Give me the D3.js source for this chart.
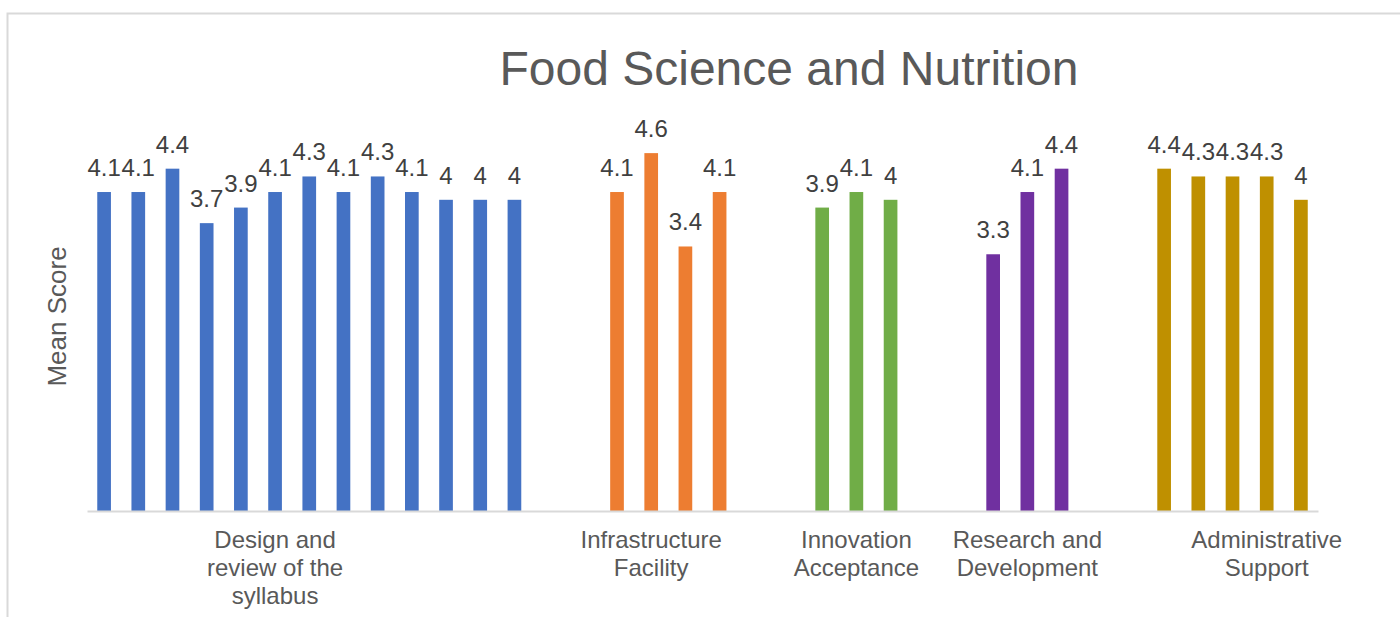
<!DOCTYPE html>
<html>
<head>
<meta charset="utf-8">
<script src="https://cdn.jsdelivr.net/npm/d3@7"></script>
<style>
  html, body { margin: 0; padding: 0; background: #fff; }
  svg { display: block; font-family: "Liberation Sans", Arial, sans-serif; }
</style>
</head>
<body>
<svg id="chart"></svg>
<script>
// category groups, as they appear along the x axis
const groups = [
  "Design and review of the syllabus",
  "Infrastructure Facility",
  "Innovation Acceptance",
  "Research and Development",
  "Administrative Support"
];

// wrapped label lines for each group
const groupLabelLines = [
  ["Design and", "review of the", "syllabus"],
  ["Infrastructure", "Facility"],
  ["Innovation", "Acceptance"],
  ["Research and", "Development"],
  ["Administrative", "Support"]
];

// index of the item inside each group that carries the category label
const labelItem = [5, 1, 1, 1, 3];

// mean scores per item
const designScores = [4.1, 4.1, 4.4, 3.7, 3.9, 4.1, 4.3, 4.1, 4.3, 4.1, 4, 4, 4];
const infraScores = [4.1, 4.6, 3.4, 4.1];
const innovationScores = [3.9, 4.1, 4];
const researchScores = [3.3, 4.1, 4.4];
const adminScores = [4.4, 4.3, 4.3, 4.3, 4];

const groupColors = ["#4472C4", "#ED7D31", "#70AD47", "#7030A0", "#BF9000"];

const width = 1400;
const height = 617;
const margin = { top: 122, left: 87, right: 82, bottom: 106 };
const emptySlots = 2; // blank categories between groups

// flatten into one row of slots, like the spreadsheet did
const allScores = [designScores, infraScores, innovationScores, researchScores, adminScores];
const bars = [];
const labels = [];
let slot = 0;
allScores.forEach((scores, gi) => {
  scores.forEach((v, i) => {
    bars.push({ slot: slot, value: v, group: gi });
    if (i === labelItem[gi]) labels.push({ slot: slot, lines: groupLabelLines[gi] });
    slot++;
  });
  if (gi < allScores.length - 1) slot += emptySlots;
});
const slotCount = slot;

const svg = d3.select("#chart")
  .attr("width", width)
  .attr("height", height);

// chart frame (runs off the right and bottom edges)
svg.append("rect")
  .attr("x", 7.5)
  .attr("y", 13.5)
  .attr("width", width + 20)
  .attr("height", height + 20)
  .attr("fill", "#fff")
  .attr("stroke", "#d9d9d9")
  .attr("stroke-width", 2);

const x = d3.scaleBand()
  .domain(d3.range(slotCount))
  .range([margin.left, width - margin.right])
  .paddingInner(0.6)
  .paddingOuter(0.3);

const y = d3.scaleLinear()
  .domain([0, 5])
  .range([height - margin.bottom, margin.top]);

// title
svg.append("text")
  .attr("x", 789)
  .attr("y", 85)
  .attr("text-anchor", "middle")
  .attr("font-size", 48)
  .attr("fill", "#595959")
  .text("Food Science and Nutrition");

// y axis title
svg.append("text")
  .attr("transform", `translate(66, ${(y(0) + y(5)) / 2}) rotate(-90)`)
  .attr("text-anchor", "middle")
  .attr("font-size", 26)
  .attr("fill", "#595959")
  .text("Mean Score");

// bars
svg.append("g")
  .selectAll("rect")
  .data(bars)
  .join("rect")
  .attr("x", d => x(d.slot))
  .attr("y", d => y(d.value))
  .attr("width", x.bandwidth())
  .attr("height", d => y(0) - y(d.value))
  .attr("fill", d => groupColors[d.group]);

// baseline axis, no ticks
svg.append("g")
  .attr("transform", `translate(0, ${y(0)})`)
  .call(d3.axisBottom(x).tickSize(0).tickFormat(""))
  .call(g => g.select(".domain").attr("stroke", "#d9d9d9").attr("stroke-width", 2));

// data labels
svg.append("g")
  .selectAll("text")
  .data(bars)
  .join("text")
  .attr("x", d => x(d.slot) + x.bandwidth() / 2)
  .attr("y", d => y(d.value) - 16)
  .attr("text-anchor", "middle")
  .attr("font-size", 24)
  .attr("fill", "#404040")
  .text(d => d3.format("")(d.value));

// category labels
const catLabels = svg.append("g")
  .selectAll("text")
  .data(labels)
  .join("text")
  .attr("x", d => x(d.slot) + x.bandwidth() / 2)
  .attr("y", 548)
  .attr("text-anchor", "middle")
  .attr("font-size", 24)
  .attr("fill", "#595959");

catLabels.selectAll("tspan")
  .data(d => d.lines.map(l => ({ line: l, cx: x(d.slot) + x.bandwidth() / 2 })))
  .join("tspan")
  .attr("x", d => d.cx)
  .attr("dy", (d, i) => (i === 0 ? 0 : 28))
  .text(d => d.line);
</script>
</body>
</html>
